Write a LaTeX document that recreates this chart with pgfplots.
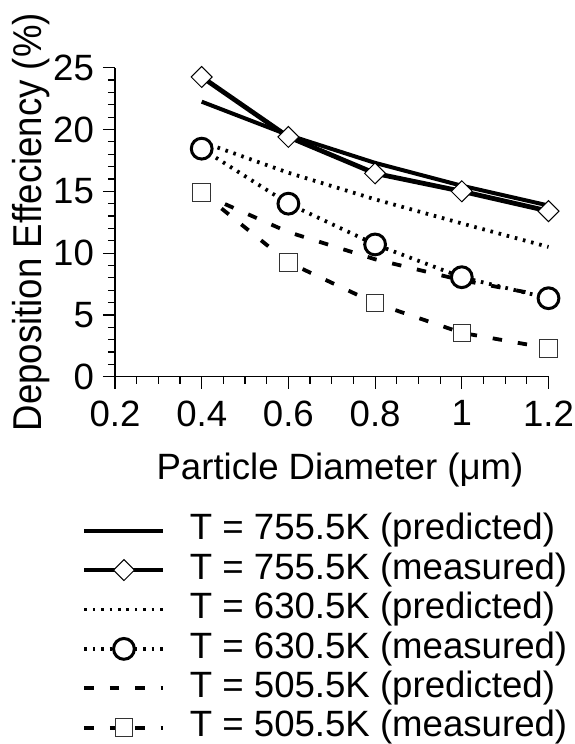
\documentclass[border=0pt]{standalone}
\usepackage{pgfplots}
\pgfplotsset{compat=1.18}
\usepackage{fontspec}
\setmainfont{Liberation Sans}
\begin{document}
\begin{tikzpicture}
\begin{axis}[
  name=ax,
  scale only axis,
  width=216.75pt, height=154.5pt,
  xmin=0.2, xmax=1.2, ymin=0, ymax=25,
  clip=false,
  axis lines*=left,
  axis line style={line width=0.6pt},
  tick align=outside,
  major tick length=6pt, minor tick length=3.5pt,
  every tick/.style={line width=0.6pt, black},
  xtick={0.2,0.4,0.6,0.8,1,1.2},
  ytick={0,5,10,15,20,25},
  minor x tick num=3,
  minor y tick num=4,
  /pgf/number format/assume math mode=true,
  ticklabel style={font=\fontsize{18.3}{20}\selectfont},
  xticklabel style={yshift=-2.5pt},
  yticklabel style={xshift=-1pt},
  xlabel={Particle Diameter (μm)},
  ylabel={\scalebox{1}[1.1]{Deposition Effeciency (\%)}},
  label style={font=\fontsize{18.3}{20}\selectfont},
  xlabel style={at={(axis description cs:0.519,-0.334)}, anchor=base},
  ylabel style={at={(axis description cs:-0.1685,0.5)}, anchor=base},
  legend style={at={(axis description cs:-0.076,-0.441)}, anchor=north west,
    draw=none, fill=none, inner sep=0pt, outer sep=0pt,
    font=\fontsize{18.3}{20}\selectfont,
    nodes={inner sep=0pt, text height=13.5pt, text depth=4.2pt},
    row sep=2pt, column sep=12pt},
  legend cell align=left,
  legend image code/.code={\draw[mark repeat=2,mark phase=2,#1] plot coordinates {(0pt,0pt)(19.75pt,0pt)(39.5pt,0pt)};},
]
% T = 755.5K predicted
\addplot[black, line width=2pt, mark=none] coordinates {
  (0.4,22.25) (0.6,19.55) (0.8,17.3) (1.0,15.45) (1.2,13.85)};
\addlegendentry{T = 755.5K (predicted)}
% T = 755.5K measured
\addplot[black, line width=2.4pt, mark=square*,
  mark options={solid, fill=white, line width=0.5pt, rotate=45, mark size=3.7pt}] coordinates {
  (0.4,24.25) (0.6,19.4) (0.8,16.45) (1.0,15.0) (1.2,13.4)};
\addlegendentry{T = 755.5K (measured)}
% T = 630.5K predicted
\addplot[black, line width=1.9pt, dash pattern=on 1.3pt off 2.9pt, mark=none] coordinates {
  (0.4,19.0) (0.6,16.5) (0.8,14.35) (1.0,12.4) (1.2,10.5)};
\addlegendentry{T = 630.5K (predicted)}
% T = 630.5K measured
\addplot[black, line width=1.9pt, dash pattern=on 1.3pt off 2.9pt, mark=*,
  mark options={solid, fill=white, line width=1.5pt, mark size=5.2pt}] coordinates {
  (0.4,18.45) (0.6,14.0) (0.8,10.7) (1.0,8.05) (1.2,6.35)};
\addlegendentry{T = 630.5K (measured)}
% T = 505.5K predicted
\addplot[black, line width=1.9pt, dash pattern=on 4.7pt off 8pt, mark=none] coordinates {
  (0.4,14.8) (0.6,11.7) (0.8,9.5) (1.0,7.8) (1.2,6.5)};
\addlegendentry{T = 505.5K (predicted)}
% T = 505.5K measured
\addplot[black, line width=1.9pt, dash pattern=on 4.7pt off 8pt, mark=square*,
  mark options={solid, fill=white, draw=black!80, line width=0.5pt, mark size=4.4pt}] coordinates {
  (0.4,14.9) (0.6,9.25) (0.8,5.95) (1.0,3.55) (1.2,2.3)};
\addlegendentry{T = 505.5K (measured)}
\end{axis}
\pgfresetboundingbox
\path[use as bounding box] ([shift={(-57.5pt,-183.65pt)}]ax.south west) rectangle ([shift={(229.5pt,188.35pt)}]ax.south west);
\end{tikzpicture}
\end{document}
